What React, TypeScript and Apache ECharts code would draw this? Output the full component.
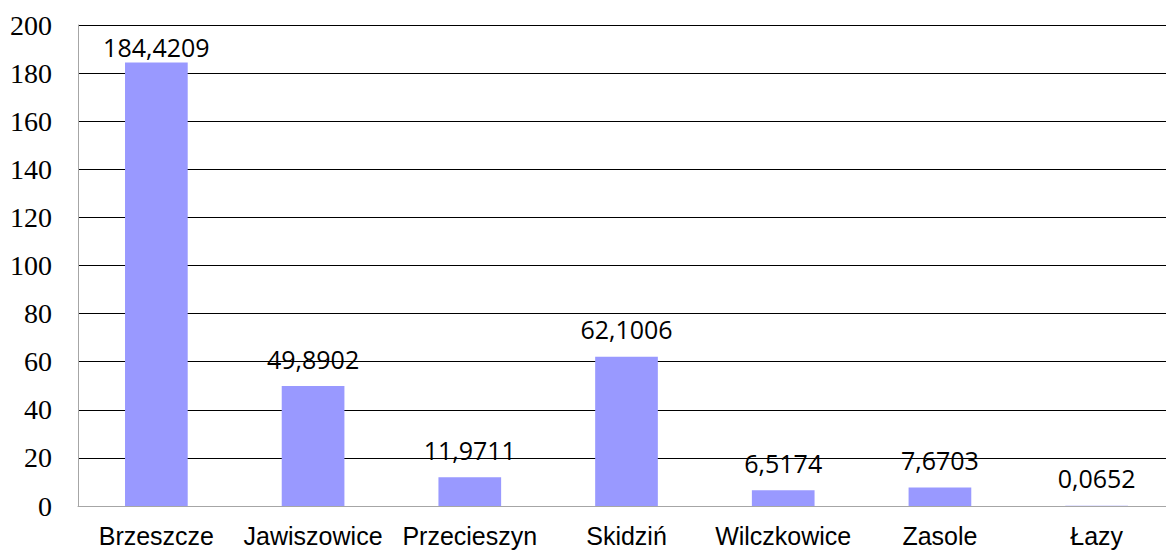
import React, { useEffect, useRef } from "react";
import * as echarts from "echarts";

const categories = ["Brzeszcze", "Jawiszowice", "Przecieszyn", "Skidziń", "Wilczkowice", "Zasole", "Łazy"];
const values = [184.4209, 49.8902, 11.9711, 62.1006, 6.5174, 7.6703, 0.0652];
const yTicks = { min: 0, max: 200, interval: 20 };

export default function App() {
  const ref = useRef<HTMLDivElement>(null);
  useEffect(() => {
    if (!ref.current) return;
    const chart = echarts.init(ref.current, null, { renderer: "svg" });
    chart.setOption({
      animation: false,
      backgroundColor: "#ffffff",
      grid: { left: 78, right: -9, top: 25, bottom: 44, containLabel: false, outerBoundsMode: "none" },
      xAxis: {
        type: "category",
        data: categories,
        axisLine: { lineStyle: { color: "#a6a6a6", width: 1 } },
        axisTick: { show: false },
        axisLabel: {
          interval: 0,
          margin: 17,
          fontFamily: "Liberation Sans",
          fontSize: 25,
          color: "#000000",
        },
      },
      yAxis: {
        type: "value",
        min: yTicks.min,
        max: yTicks.max,
        interval: yTicks.interval,
        axisLine: { show: true, lineStyle: { color: "#a6a6a6", width: 1 } },
        axisTick: { show: false },
        splitLine: { lineStyle: { color: "#000000", width: 1 } },
        axisLabel: {
          margin: 26,
          textStyle: { fontFamily: "Times New Roman" },
          fontFamily: "Times New Roman",
          fontStyle: "normal",
          fontSize: 28,
          color: "#000000",
        },
      },
      series: [
        {
          type: "bar",
          barCategoryGap: "60%",
          itemStyle: { color: "#9999ff" },
          data: values.map((v, i) => (i === 0 ? { value: v, label: { distance: 3 } } : v)),
          label: {
            show: true,
            position: "top",
            distance: 15,
            fontFamily: "Open Sans",
            fontSize: 25,
            color: "#000000",
            formatter: (p: any) => Number(p.value).toFixed(4).replace(".", ","),
          },
        },
      ],
    });
    return () => chart.dispose();
  }, []);
  return (
    <div
      ref={ref}
      style={{ position: "fixed", left: 0, top: 0, width: 1166, height: 550 }}
    />
  );
}
